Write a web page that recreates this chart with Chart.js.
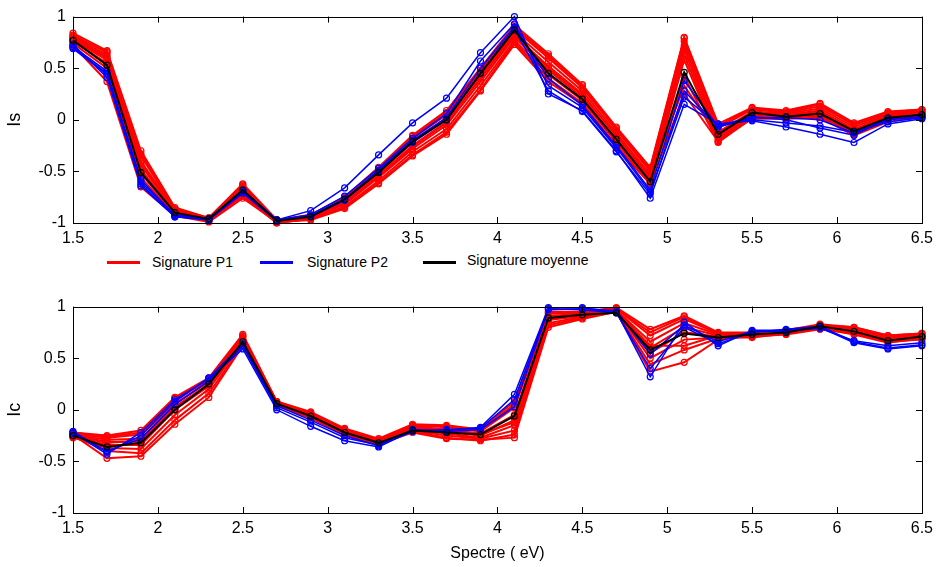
<!DOCTYPE html>
<html>
<head>
<meta charset="utf-8">
<script src="https://cdn.jsdelivr.net/npm/chart.js@4/dist/chart.umd.min.js"></script>
<style>
  body { margin: 0; background: #fff; }
  #wrap { position: relative; width: 939px; height: 567px; font-family: 'Liberation Sans', Arial, sans-serif; }
  canvas { position: absolute; left: 0; }
  #top { top: 0; }
  #bottom { top: 290px; }
  .key { position: absolute; height: 3px; width: 33px; top: 261px; }
  .lbl { position: absolute; font-size: 14px; color: #000; top: 254px; }
</style>
</head>
<body>
<div id="wrap">
  <canvas id="top" width="939" height="250"></canvas>
  <canvas id="bottom" width="939" height="277"></canvas>
  <div class="key" style="left:107px;background:#ff0000"></div>
  <div class="lbl" style="left:152px">Signature P1</div>
  <div class="key" style="left:260px;background:#0000ff"></div>
  <div class="lbl" style="left:307px">Signature P2</div>
  <div class="key" style="left:423px;background:#000"></div>
  <div class="lbl" style="left:467px;top:252px">Signature moyenne</div>
</div>
<script>
// energy axis (eV)
const spectre = [1.5,1.7,1.9,2.1,2.3,2.5,2.7,2.9,3.1,3.3,3.5,3.7,3.9,4.1,4.3,4.5,4.7,4.9,5.1,5.3,5.5,5.7,5.9,6.1,6.3,6.5];
const xTicks = [1.5,2,2.5,3,3.5,4,4.5,5,5.5,6,6.5];
const yTicks = [-1,-0.5,0,0.5,1];

// Is - signatures P1 (red)
const isP1 = [
  [0.84,0.67,-0.30,-0.85,-0.95,-0.62,-0.97,-0.92,-0.75,-0.46,-0.15,0.09,0.50,0.92,0.64,0.34,-0.07,-0.46,0.80,-0.04,0.12,0.09,0.16,-0.03,0.08,0.10],
  [0.82,0.65,-0.35,-0.87,-0.96,-0.64,-0.98,-0.93,-0.77,-0.49,-0.18,0.05,0.46,0.88,0.60,0.31,-0.10,-0.50,0.76,-0.08,0.10,0.07,0.13,-0.05,0.06,0.09],
  [0.80,0.63,-0.40,-0.88,-0.96,-0.66,-0.98,-0.94,-0.79,-0.52,-0.22,0.02,0.43,0.85,0.56,0.28,-0.13,-0.53,0.72,-0.12,0.08,0.06,0.11,-0.07,0.05,0.08],
  [0.79,0.61,-0.44,-0.89,-0.97,-0.68,-0.99,-0.94,-0.80,-0.54,-0.25,-0.02,0.40,0.82,0.52,0.25,-0.16,-0.55,0.68,-0.15,0.07,0.05,0.09,-0.09,0.04,0.07],
  [0.77,0.58,-0.48,-0.90,-0.97,-0.70,-0.99,-0.95,-0.82,-0.56,-0.28,-0.05,0.37,0.80,0.48,0.22,-0.19,-0.57,0.63,-0.18,0.05,0.04,0.07,-0.11,0.03,0.06],
  [0.76,0.55,-0.52,-0.91,-0.98,-0.72,-1.00,-0.96,-0.84,-0.59,-0.31,-0.09,0.33,0.77,0.44,0.19,-0.22,-0.59,0.58,-0.20,0.04,0.03,0.05,-0.13,0.01,0.05],
  [0.74,0.50,-0.56,-0.92,-0.98,-0.74,-1.00,-0.96,-0.85,-0.61,-0.34,-0.12,0.29,0.75,0.40,0.16,-0.25,-0.61,0.42,-0.22,0.02,0.02,0.04,-0.14,0.00,0.04],
  [0.72,0.37,-0.65,-0.93,-0.99,-0.76,-0.99,-0.97,-0.86,-0.62,-0.35,-0.14,0.28,0.73,0.37,0.15,-0.27,-0.62,0.25,-0.21,0.01,0.01,0.02,-0.15,-0.02,0.03],
  [0.81,0.66,-0.33,-0.86,-0.95,-0.63,-0.97,-0.93,-0.76,-0.47,-0.16,0.07,0.48,0.90,0.62,0.33,-0.08,-0.48,0.79,-0.06,0.11,0.08,0.15,-0.04,0.07,0.10],
  [0.78,0.60,-0.42,-0.88,-0.96,-0.67,-0.98,-0.94,-0.81,-0.55,-0.26,-0.03,0.41,0.83,0.50,0.24,-0.15,-0.56,0.33,-0.16,0.06,0.05,0.08,-0.10,0.03,0.07]
];
// Is - signatures P2 (blue)
const isP2 = [
  [0.69,0.44,-0.58,-0.93,-0.96,-0.70,-0.97,-0.88,-0.66,-0.34,-0.03,0.21,0.65,1.00,0.25,0.09,-0.30,-0.76,0.15,-0.04,-0.01,-0.07,-0.14,-0.22,-0.04,0.01],
  [0.71,0.47,-0.62,-0.94,-0.96,-0.69,-0.97,-0.92,-0.74,-0.47,-0.18,0.06,0.57,0.93,0.33,0.12,-0.27,-0.70,0.22,-0.05,0.00,-0.03,-0.06,-0.12,-0.02,0.02],
  [0.73,0.41,-0.64,-0.94,-0.97,-0.71,-0.98,-0.93,-0.77,-0.49,-0.20,0.02,0.50,0.90,0.40,0.14,-0.25,-0.68,0.38,-0.07,0.02,0.02,0.00,-0.13,0.00,0.03],
  [0.70,0.45,-0.60,-0.92,-0.96,-0.68,-0.97,-0.94,-0.78,-0.50,-0.22,0.00,0.45,0.88,0.28,0.08,-0.31,-0.72,0.28,-0.06,0.03,0.00,-0.08,-0.15,0.01,0.02]
];
// Is - signature moyenne
const isMoy = [0.77,0.53,-0.51,-0.90,-0.96,-0.68,-0.98,-0.94,-0.77,-0.51,-0.21,0.00,0.45,0.87,0.45,0.20,-0.19,-0.60,0.46,-0.14,0.07,0.03,0.06,-0.11,0.02,0.05];

// Ic - signatures P1 (red)
const icP1 = [
  [-0.22,-0.25,-0.20,0.12,0.31,0.73,0.08,-0.02,-0.18,-0.28,-0.14,-0.15,-0.19,0.08,0.95,0.95,0.99,0.78,0.91,0.75,0.75,0.77,0.83,0.80,0.72,0.74],
  [-0.23,-0.27,-0.24,0.09,0.29,0.71,0.07,-0.03,-0.19,-0.29,-0.15,-0.17,-0.21,0.02,0.93,0.94,0.98,0.72,0.88,0.74,0.74,0.76,0.82,0.79,0.71,0.73],
  [-0.24,-0.29,-0.28,0.06,0.27,0.70,0.07,-0.04,-0.20,-0.30,-0.16,-0.19,-0.23,-0.05,0.91,0.93,0.97,0.66,0.84,0.73,0.73,0.76,0.81,0.78,0.70,0.72],
  [-0.25,-0.31,-0.31,0.03,0.25,0.68,0.06,-0.05,-0.21,-0.31,-0.18,-0.21,-0.25,-0.10,0.89,0.92,0.97,0.60,0.80,0.72,0.72,0.75,0.80,0.77,0.69,0.71],
  [-0.26,-0.34,-0.34,0.00,0.23,0.67,0.05,-0.06,-0.22,-0.32,-0.19,-0.23,-0.27,-0.15,0.87,0.91,0.96,0.55,0.75,0.71,0.71,0.75,0.80,0.76,0.68,0.70],
  [-0.27,-0.37,-0.38,-0.05,0.20,0.65,0.05,-0.07,-0.23,-0.33,-0.20,-0.25,-0.28,-0.20,0.84,0.90,0.96,0.50,0.68,0.70,0.70,0.74,0.79,0.75,0.67,0.69],
  [-0.25,-0.40,-0.42,-0.10,0.16,0.63,0.04,-0.08,-0.24,-0.32,-0.21,-0.27,-0.30,-0.24,0.82,0.89,0.95,0.44,0.58,0.69,0.71,0.73,0.78,0.74,0.66,0.68],
  [-0.24,-0.47,-0.45,-0.14,0.12,0.62,0.04,-0.06,-0.25,-0.33,-0.22,-0.28,-0.29,-0.27,0.80,0.88,0.95,0.37,0.46,0.68,0.72,0.74,0.79,0.73,0.65,0.69],
  [-0.22,-0.26,-0.22,0.11,0.30,0.72,0.08,-0.03,-0.19,-0.29,-0.15,-0.16,-0.20,0.05,0.94,0.94,0.98,0.75,0.90,0.74,0.74,0.77,0.82,0.80,0.72,0.74],
  [-0.26,-0.32,-0.30,0.02,0.24,0.66,0.06,-0.04,-0.21,-0.30,-0.17,-0.20,-0.24,-0.12,0.88,0.91,0.96,0.62,0.62,0.72,0.73,0.75,0.81,0.77,0.69,0.71]
];
// Ic - signatures P2 (blue)
const icP2 = [
  [-0.22,-0.43,-0.22,0.10,0.30,0.59,0.00,-0.16,-0.30,-0.36,-0.20,-0.20,-0.17,0.15,0.99,0.99,0.95,0.32,0.85,0.62,0.77,0.77,0.80,0.65,0.59,0.62],
  [-0.23,-0.40,-0.28,0.05,0.28,0.62,0.02,-0.12,-0.27,-0.34,-0.19,-0.21,-0.19,0.03,0.97,0.98,0.96,0.54,0.82,0.66,0.76,0.76,0.79,0.67,0.62,0.65],
  [-0.21,-0.41,-0.25,0.08,0.31,0.64,0.04,-0.10,-0.25,-0.35,-0.21,-0.19,-0.18,0.10,0.98,0.97,0.94,0.40,0.80,0.64,0.75,0.78,0.81,0.66,0.60,0.63]
];
// Ic - signature moyenne
const icMoy = [-0.25,-0.36,-0.32,0.00,0.25,0.66,0.06,-0.06,-0.22,-0.32,-0.20,-0.22,-0.24,-0.06,0.89,0.92,0.94,0.58,0.74,0.70,0.73,0.75,0.81,0.76,0.67,0.71];

Chart.defaults.font.family = "'Liberation Sans', Arial, sans-serif";
Chart.defaults.color = '#000';

// matlab like box with inward ticks
const boxTicks = {
  id: 'boxTicks',
  afterDatasetsDraw(chart) {
    const ctx = chart.ctx, a = chart.chartArea;
    const x = chart.scales.x, y = chart.scales.y;
    ctx.save();
    ctx.strokeStyle = '#000';
    ctx.lineWidth = 1;
    ctx.beginPath();
    xTicks.forEach(function (v) {
      const px = Math.round(x.getPixelForValue(v)) + 0.5;
      ctx.moveTo(px, a.bottom); ctx.lineTo(px, a.bottom - 6);
      ctx.moveTo(px, a.top); ctx.lineTo(px, a.top + 6);
    });
    yTicks.forEach(function (v) {
      const py = Math.round(y.getPixelForValue(v)) + 0.5;
      ctx.moveTo(a.left, py); ctx.lineTo(a.left + 6, py);
      ctx.moveTo(a.right, py); ctx.lineTo(a.right - 6, py);
    });
    ctx.stroke();
    ctx.strokeRect(Math.round(a.left) + 0.5, Math.round(a.top) + 0.5, Math.round(a.right - a.left), Math.round(a.bottom - a.top));
    ctx.restore();
  }
};

function serie(vals, color, width) {
  return {
    data: vals.map((v, i) => ({ x: spectre[i], y: v })),
    borderColor: color,
    borderWidth: width,
    pointRadius: 3,
    pointBorderWidth: 1.2,
    pointBorderColor: color,
    pointBackgroundColor: 'rgba(0,0,0,0)',
    tension: 0,
    clip: 6
  };
}

function makeChart(id, p1, p2, moy, yTitle, xTitle, xHeight) {
  // first dataset is drawn on top
  const sets = [serie(moy, '#000000', 2)];
  p2.forEach(s => sets.push(serie(s, '#0000ff', 1.5)));
  p1.forEach(s => sets.push(serie(s, '#ff0000', 2)));

  return new Chart(document.getElementById(id), {
    type: 'line',
    data: { datasets: sets },
    plugins: [boxTicks],
    options: {
      responsive: false,
      animation: false,
      devicePixelRatio: 1,
      layout: { padding: { top: 15, right: 14, left: 0, bottom: 0 } },
      plugins: { legend: { display: false }, tooltip: { enabled: false } },
      scales: {
        x: {
          type: 'linear',
          min: 1.5, max: 6.5,
          grid: { display: false, drawTicks: false },
          border: { display: false },
          ticks: { stepSize: 0.5, padding: 6, font: { size: 16 }, maxRotation: 0, callback: v => String(v) },
          title: { display: !!xTitle, text: xTitle, font: { size: 16 }, padding: { top: 2, bottom: 4 } },
          afterFit: s => { s.height = xHeight; }
        },
        y: {
          min: -1, max: 1,
          grid: { display: false, drawTicks: false },
          border: { display: false },
          ticks: { stepSize: 0.5, padding: 7, font: { size: 16 }, callback: v => String(v) },
          title: { display: true, text: yTitle, font: { size: 18 }, padding: { top: 4, bottom: 0 } },
          afterFit: s => { s.width = 73; }
        }
      }
    }
  });
}

makeChart('top', isP1, isP2, isMoy, 'Is', '', 27);
makeChart('bottom', icP1, icP2, icMoy, 'Ic', 'Spectre ( eV)', 54);
</script>
</body>
</html>
